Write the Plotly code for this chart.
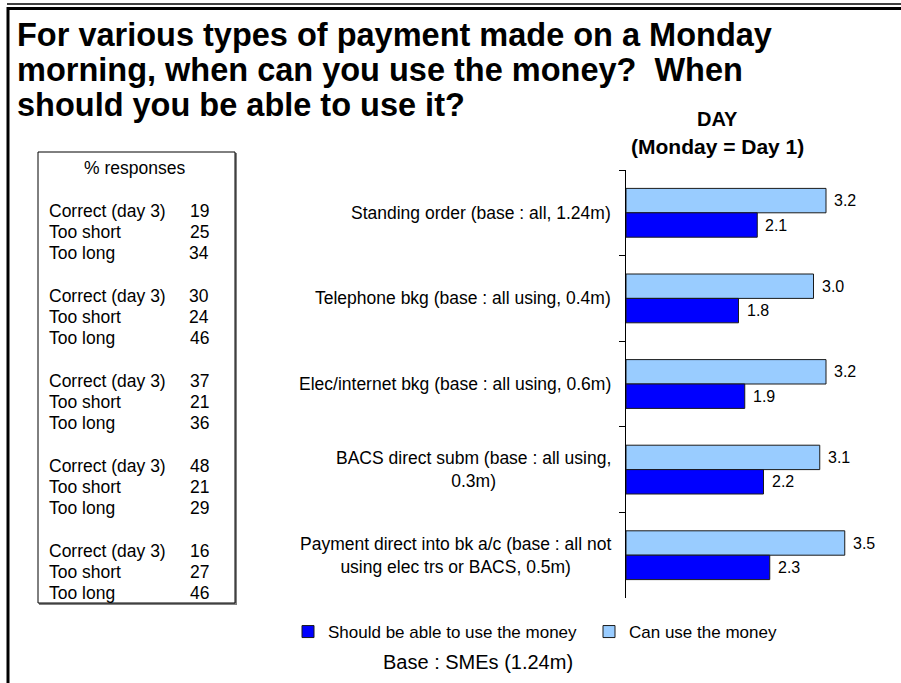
import plotly.graph_objects as go

W, H = 901, 683

# Payment types (top to bottom) and the day the money becomes usable
categories = [
    "Standing order (base : all, 1.24m)",
    "Telephone bkg (base : all using, 0.4m)",
    "Elec/internet bkg (base : all using, 0.6m)",
    "BACS direct subm (base : all using,<br>0.3m)",
    "Payment direct into bk a/c (base : all not<br>using elec trs or BACS, 0.5m)",
]
can_use = [3.2, 3.0, 3.2, 3.1, 3.5]
should_use = [2.1, 1.8, 1.9, 2.2, 2.3]

# % responses panel, one group per payment type
resp_labels = ["Correct (day 3)", "Too short", "Too long"]
resp_correct = [19, 30, 37, 48, 16]
resp_short = [25, 24, 21, 21, 27]
resp_long = [34, 46, 36, 29, 46]

title_lines = [
    "For various types of payment made on a Monday",
    "morning, when can you use the money?&nbsp; When",
    "should you be able to use it?",
]

LIGHT = "#99CCFF"
DARK = "#0000FF"
EDGE = "#1a1a1a"
FONT = "Liberation Sans, Arial, sans-serif"
BARGAP = 0.43


def px(x):
    return x / W


def py(y):
    return 1 - y / H


fig = go.Figure()
fig.add_trace(go.Bar(
    y=categories, x=can_use, orientation="h", name="Can use the money",
    marker=dict(color=LIGHT, line=dict(color=EDGE, width=1)),
    legendrank=2, hoverinfo="x+y",
))
fig.add_trace(go.Bar(
    y=categories, x=should_use, orientation="h", name="Should be able to use the money",
    marker=dict(color=DARK, line=dict(color=EDGE, width=1)),
    legendrank=1, hoverinfo="x+y",
))

annotations = []

# value labels just beyond the bar ends
half = (1 - BARGAP) / 4
for i, (c, s) in enumerate(zip(can_use, should_use)):
    for val, off in ((c, -half), (s, half)):
        annotations.append(dict(
            x=val, y=i + off, xref="x", yref="y", text=f"{val:.1f}",
            showarrow=False, xanchor="left", yanchor="middle", xshift=6,
            font=dict(family=FONT, size=16, color="black"),
        ))

# category labels, centred lines, right edge next to the axis
for cat in categories:
    annotations.append(dict(
        x=px(613), y=cat, xref="paper", yref="y", text=cat,
        showarrow=False, xanchor="right", yanchor="middle", align="center",
        font=dict(family=FONT, size=17.5, color="black"),
    ))

# title block
for k, line in enumerate(title_lines):
    annotations.append(dict(
        x=px(15), y=py(35 + 35 * k), xref="paper", yref="paper", text=f"<b>{line}</b>",
        showarrow=False, xanchor="left", yanchor="middle",
        font=dict(family=FONT, size=32.5, color="black"),
    ))

annotations.append(dict(
    x=px(717), y=py(119), xref="paper", yref="paper", text="<b>DAY</b>",
    showarrow=False, xanchor="center", yanchor="middle",
    font=dict(family=FONT, size=20, color="black"),
))
annotations.append(dict(
    x=px(717), y=py(147), xref="paper", yref="paper", text="<b>(Monday = Day 1)</b>",
    showarrow=False, xanchor="center", yanchor="middle",
    font=dict(family=FONT, size=21, color="black"),
))

annotations.append(dict(
    x=px(478), y=py(662), xref="paper", yref="paper", text="Base : SMEs (1.24m)",
    showarrow=False, xanchor="center", yanchor="middle",
    font=dict(family=FONT, size=20, color="black"),
))

# % responses panel
BOX_FONT = dict(family=FONT, size=17.5, color="black")
annotations.append(dict(
    x=px(134), y=py(168), xref="paper", yref="paper", text="% responses",
    showarrow=False, xanchor="center", yanchor="middle", font=BOX_FONT,
))
pitch = 21.25
row = 2
for g in range(len(resp_correct)):
    for lab, val in zip(resp_labels, (resp_correct[g], resp_short[g], resp_long[g])):
        yy = 168 + pitch * row
        annotations.append(dict(
            x=px(47), y=py(yy), xref="paper", yref="paper", text=lab,
            showarrow=False, xanchor="left", yanchor="middle", font=BOX_FONT,
        ))
        annotations.append(dict(
            x=px(211), y=py(yy), xref="paper", yref="paper", text=str(val),
            showarrow=False, xanchor="right", yanchor="middle", font=BOX_FONT,
        ))
        row += 1
    row += 1

shapes = [
    # page frame: double rule along the top, heavy rule down the left
    dict(type="line", xref="paper", yref="paper", x0=px(7), x1=1, y0=py(4), y1=py(4),
         line=dict(color="#404040", width=2)),
    dict(type="line", xref="paper", yref="paper", x0=px(7), x1=1, y0=py(8.5), y1=py(8.5),
         line=dict(color="black", width=3)),
    dict(type="line", xref="paper", yref="paper", x0=px(8), x1=px(8), y0=py(7), y1=0,
         line=dict(color="black", width=3)),
    # responses panel with a soft shadow edge
    dict(type="line", xref="paper", yref="paper", x0=px(39), x1=px(237), y0=py(604), y1=py(604),
         line=dict(color="#808080", width=2)),
    dict(type="line", xref="paper", yref="paper", x0=px(236), x1=px(236), y0=py(153), y1=py(604),
         line=dict(color="#808080", width=2)),
    dict(type="rect", xref="paper", yref="paper", x0=px(38), x1=px(235), y0=py(603), y1=py(152),
         line=dict(color="black", width=1)),
]

fig.update_layout(
    width=W, height=H,
    margin=dict(l=0, r=0, t=0, b=0),
    paper_bgcolor="white", plot_bgcolor="white",
    barmode="group", bargap=BARGAP, bargroupgap=0,
    font=dict(family=FONT, color="black"),
    showlegend=True,
    legend=dict(
        orientation="h", x=px(288), y=py(632), xanchor="left", yanchor="middle",
        font=dict(family=FONT, size=17, color="black"),
        traceorder="normal", entrywidth=256, entrywidthmode="pixels",
        bgcolor="rgba(0,0,0,0)",
    ),
    xaxis=dict(domain=[px(626), px(876)], range=[0, 4], visible=False, fixedrange=True),
    yaxis=dict(
        domain=[py(598), py(170)], type="category", categoryorder="array",
        categoryarray=categories, range=[4.5, -0.5], showticklabels=False,
        showline=True, linecolor="black", linewidth=1, showgrid=False, zeroline=False,
        ticks="outside", tickson="boundaries", ticklen=6, tickcolor="black", tickwidth=1,
        fixedrange=True,
    ),
    annotations=annotations,
    shapes=shapes,
)

fig.write_html("out.html")
